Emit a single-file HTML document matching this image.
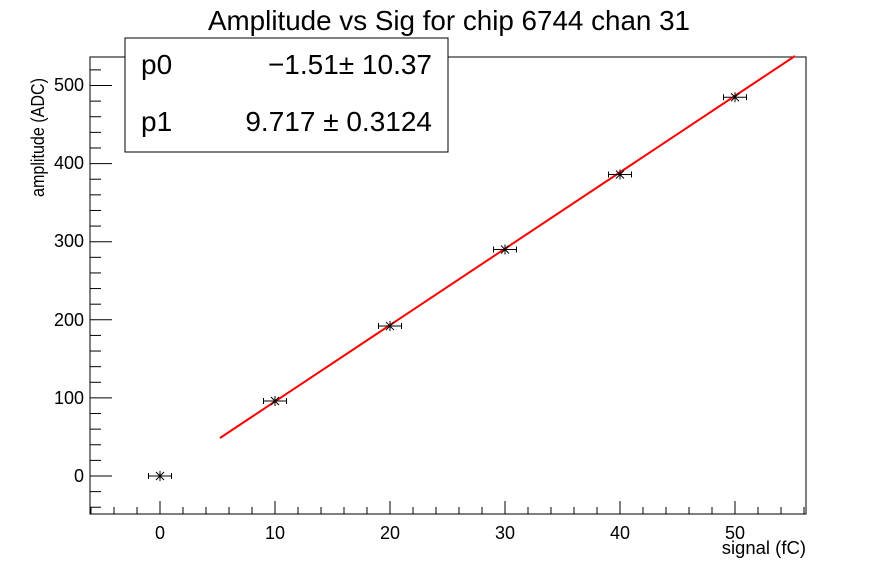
<!DOCTYPE html>
<html><head><style>body{margin:0;background:#fff}svg{display:block}text{font-family:"Liberation Sans",sans-serif}</style></head><body>
<svg width="896" height="572" xmlns="http://www.w3.org/2000/svg">
<rect width="896" height="572" fill="#fff"/>
<text x="449" y="30" font-size="28" text-anchor="middle" textLength="482" lengthAdjust="spacingAndGlyphs">Amplitude vs Sig for chip 6744 chan 31</text>
<rect x="90" y="57" width="716" height="457" fill="none" stroke="#000" stroke-width="1"/>
<g stroke="#000" stroke-width="1" id="ticks"></g>
<g font-size="18" text-anchor="middle">
<text x="160" y="539">0</text><text x="275" y="539">10</text><text x="390" y="539">20</text><text x="505" y="539">30</text><text x="620" y="539">40</text><text x="735" y="539">50</text>
</g>
<g font-size="18" text-anchor="end">
<text x="84" y="482">0</text><text x="84" y="404">100</text><text x="84" y="326">200</text><text x="84" y="247">300</text><text x="84" y="169">400</text><text x="84" y="91">500</text>
</g>
<text x="806" y="554" font-size="18.5" text-anchor="end">signal (fC)</text>
<text transform="translate(44,197) rotate(-90)" font-size="18" text-anchor="start" textLength="119" lengthAdjust="spacingAndGlyphs">amplitude (ADC)</text>
<line x1="220" y1="438" x2="795" y2="56" stroke="#f00" stroke-width="2"/>
<g stroke="#000" stroke-width="1" id="pts"></g>
<rect x="125" y="38" width="323" height="114" fill="#fff" stroke="#000"/>
<text x="141" y="74" font-size="28">p0</text>
<text x="432" y="74" font-size="28" text-anchor="end">−1.51± 10.37</text>
<text x="141" y="131" font-size="28">p1</text>
<text x="432" y="131" font-size="28" text-anchor="end">9.717 ± 0.3124</text>
</svg>
<script>
var ns="http://www.w3.org/2000/svg";
function L(g,x1,y1,x2,y2){var l=document.createElementNS(ns,"line");l.setAttribute("x1",x1);l.setAttribute("y1",y1);l.setAttribute("x2",x2);l.setAttribute("y2",y2);g.appendChild(l);}
var t=document.getElementById("ticks");
function X(v){return 160+v*11.5;} function Y(v){return 476-v*0.781;}
for(var v=-6;v<=56;v+=2){var x=X(v);if(x<90||x>806)continue;var len=(v%10==0)?13:7;L(t,x,514,x,514-len);}
for(var v=-40;v<=530;v+=20){var y=Y(v);if(y<57||y>514)continue;var len=(v%100==0)?22:11;L(t,90,y,90+len,y);}
var p=document.getElementById("pts");
[[0,0],[10,96],[20,192],[30,290],[40,386],[50,485]].forEach(function(d){var x=X(d[0]),y=Y(d[1]);
L(p,x-11.5,y,x+11.5,y);L(p,x-11.5,y-3,x-11.5,y+3);L(p,x+11.5,y-3,x+11.5,y+3);
L(p,x-4,y-4,x+4,y+4);L(p,x-4,y+4,x+4,y-4);L(p,x,y-5,x,y+5);});
</script>
</body></html>
